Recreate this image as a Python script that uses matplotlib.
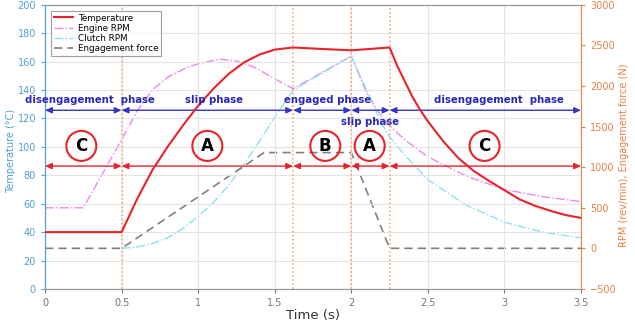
import matplotlib
matplotlib.use("Agg")
import matplotlib.pyplot as plt

# ---- data ----
temp_t = [0.0, 0.5, 0.6, 0.7, 0.8, 0.9, 1.0, 1.1, 1.2, 1.3, 1.4, 1.5, 1.62, 1.8, 2.0, 2.25,
          2.3, 2.35, 2.4, 2.45, 2.5, 2.6, 2.7, 2.8, 2.9, 3.0, 3.1, 3.2, 3.3, 3.4, 3.5]
temp_v = [40, 40, 63, 83.5, 100, 115, 129, 141, 151.5, 159.5, 165, 168.5, 170, 169, 168, 170,
          157, 146, 135, 126, 118, 104, 92, 83, 76, 69.5, 63, 58.5, 55, 52, 50]

engine_t = [0.0, 0.25, 0.5, 0.6, 0.7, 0.8, 0.92, 1.0, 1.14, 1.25, 1.36, 1.49, 1.62, 2.0,
            2.1, 2.2, 2.25, 2.35, 2.5, 2.75, 3.0, 3.25, 3.5]
engine_v = [500, 500, 1337, 1687, 1950, 2107, 2223, 2274, 2330, 2309, 2239, 2099, 1967, 2370,
            1915, 1617, 1512, 1337, 1127, 891, 725, 637, 576]

clutch_t = [0.5, 0.6, 0.7, 0.8, 0.9, 1.0, 1.1, 1.2, 1.3, 1.4, 1.5, 1.62, 2.0,
            2.1, 2.2, 2.25, 2.35, 2.5, 2.75, 3.0, 3.25, 3.5]
clutch_v = [0, 16, 60, 130, 244, 392, 567, 777, 1040, 1320, 1617, 1950, 2370,
            1950, 1530, 1372, 1145, 847, 532, 322, 200, 130]

force_t = [0.0, 0.5, 1.43, 2.0, 2.25, 3.5]
force_v = [0, 0, 1180, 1180, 0, 0]

phase_bounds = [0.0, 0.5, 1.62, 2.0, 2.25, 3.5]
phase_labels = ["disengagement  phase", "slip phase", "engaged phase", "slip phase", "disengagement  phase"]
phase_label_x = [0.29, 1.106, 1.843, 2.12, 2.965]
phase_label_y = [133.2, 133.2, 133.2, 117.8, 133.2]
circle_labels = ["C", "A", "B", "A", "C"]
circle_x = [0.237, 1.06, 1.83, 2.12, 2.87]

# ---- figure ----
fig = plt.figure(figsize=(6.35, 3.25), dpi=100)
ax = fig.add_axes([0.0709, 0.111, 0.8441, 0.874])
ax2 = ax.twinx()

blue_c = "#4f9fd8"
orange_c = "#e8804a"

ax.set_xlim(0, 3.5)
ax.set_ylim(0, 200)
ax2.set_ylim(-500, 3000)
ax.set_xticks([0, 0.5, 1, 1.5, 2, 2.5, 3, 3.5])
ax.set_xticklabels(["0", "0.5", "1", "1.5", "2", "2.5", "3", "3.5"])
ax.set_yticks(range(0, 201, 20))
ax2.set_yticks(range(-500, 3001, 500))
ax.grid(True, color="#e4e4e4", lw=0.8)
ax.set_axisbelow(True)

for s in ["top", "bottom"]:
    ax.spines[s].set_color("#999999")
    ax2.spines[s].set_color("#999999")
ax.spines["left"].set_color(blue_c)
ax2.spines["left"].set_color(blue_c)
ax2.spines["right"].set_color(orange_c)
ax.spines["right"].set_visible(False)

ax.tick_params(axis="y", colors=blue_c, labelsize=7, length=3)
ax2.tick_params(axis="y", colors=orange_c, labelsize=7, length=3)
ax.tick_params(axis="x", colors="#777777", labelsize=7, length=3)
ax.set_ylabel("Temperature (\u00b0C)", color=blue_c, fontsize=7)
ax.yaxis.set_label_coords(-0.054, 0.486)
ax2.set_ylabel("RPM (rev/min), Engagement force (N)", color=orange_c, fontsize=7)
ax2.yaxis.set_label_coords(1.07, 0.47)
ax.set_xlabel("Time (s)", color="#333333", fontsize=9.5, labelpad=1)

# vertical phase lines
for b in phase_bounds[1:-1]:
    ax.axvline(b, color="#f0a070", ls=":", lw=1.1, zorder=2)

# series
ax2.plot(engine_t, engine_v, color="#ee88ee", ls="-.", lw=1.0, label="Engine RPM", zorder=3)
ax2.plot(clutch_t, clutch_v, color="#88e4f0", ls="-.", lw=1.0, label="Clutch RPM", zorder=3)
ax2.plot(force_t, force_v, color="#808080", ls=(0, (5, 3)), lw=1.2, label="Engagement force", zorder=3)
ln_t, = ax.plot(temp_t, temp_v, color="#e8242a", lw=1.5, label="Temperature", zorder=4)

ax.set_zorder(ax2.get_zorder() + 1)
ax.patch.set_visible(False)

# arrows & labels
for i in range(len(phase_bounds) - 1):
    x0, x1 = phase_bounds[i], phase_bounds[i + 1]
    ax.annotate("", xy=(x1, 125.8), xytext=(x0, 125.8),
                arrowprops=dict(arrowstyle="<|-|>,head_length=0.4,head_width=0.18",
                                color="#3535c0", lw=1.0, shrinkA=0, shrinkB=0))
    ax.annotate("", xy=(x1, 86.5), xytext=(x0, 86.5),
                arrowprops=dict(arrowstyle="<|-|>,head_length=0.4,head_width=0.18",
                                color="#e8242a", lw=1.0, shrinkA=0, shrinkB=0))
    ax.text(phase_label_x[i], phase_label_y[i], phase_labels[i], color="#2828b4",
            fontsize=7.3, fontweight="bold", ha="center", va="center", clip_on=False, zorder=6)
    ax.text(circle_x[i], 100.7, circle_labels[i], color="black", fontsize=12, fontweight="bold",
            ha="center", va="center", zorder=6,
            bbox=dict(boxstyle="circle,pad=0.36", fc="none", ec="#e8242a", lw=1.5))

h2, l2 = ax2.get_legend_handles_labels()
leg = ax.legend([ln_t] + h2, ["Temperature"] + l2, loc="upper left",
                bbox_to_anchor=(0.008, 0.985), fontsize=6.3, frameon=True, fancybox=False,
                edgecolor="#888888", handlelength=2.2, borderpad=0.3, labelspacing=0.15,
                handletextpad=0.6, borderaxespad=0.2)
leg.get_frame().set_linewidth(0.8)

fig.savefig("out.png", dpi=100)
